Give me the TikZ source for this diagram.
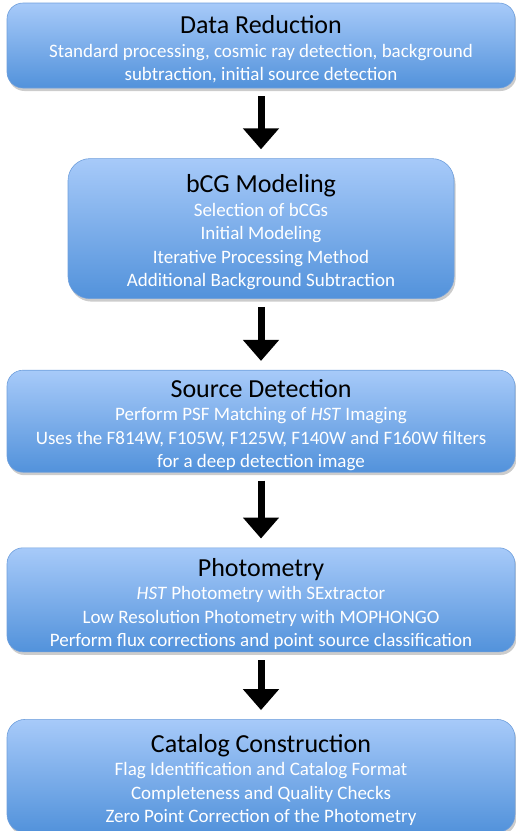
\documentclass[tikz,border=0pt]{standalone}
\usepackage{fontspec}
\setmainfont{Carlito}
\usetikzlibrary{positioning, arrows.meta, shadows}
\definecolor{boxtop}{HTML}{A7CAF9}
\definecolor{boxbottom}{HTML}{5292DB}
\definecolor{boxline}{HTML}{6F9FDC}
\tikzset{
  stage/.style={rectangle, rounded corners=16pt, minimum width=508pt, inner sep=0pt, draw=boxline, line width=0.6pt, top color=boxtop, bottom color=boxbottom, drop shadow={shadow xshift=1.5pt, shadow yshift=-3pt, fill=black!40}, align=center, text=white, font=\fontsize{19}{23.5}\selectfont},
  arrow/.style={line width=7pt, -{Triangle[width=35pt, length=21pt]}, shorten <=8pt, shorten >=9pt}
}
\newcommand{\stagetitle}[1]{{\color{black}\fontsize{26}{23}\selectfont\rule{0pt}{26pt}#1}}

\begin{document}
\begin{tikzpicture}
    \useasboundingbox (0pt,0pt) rectangle (516pt,-831pt);
    % --- Nodos ---
    \node (reduction) [stage, minimum height=85pt] at (261pt,-45.5pt) {\stagetitle{Data Reduction}\\ Standard processing, cosmic ray detection, background\\ subtraction, initial source detection};
    \node (bcg) [stage, below=70pt of reduction, minimum width=386pt, minimum height=140pt, rounded corners=22pt] {\stagetitle{bCG Modeling}\\ Selection of bCGs\\ Initial Modeling\\ Iterative Processing Method\\ Additional Background Subtraction};
    \node (detection) [stage, below=71pt of bcg, minimum height=102pt] {\stagetitle{Source Detection}\\ Perform PSF Matching of \textit{HST} Imaging\\ Uses the F814W, F105W, F125W, F140W and F160W filters\\ for a deep detection image};
    \node (photometry) [stage, below=75pt of detection, minimum height=104pt] {\stagetitle{Photometry}\\ \textit{HST} Photometry with SExtractor\\ Low Resolution Photometry with MOPHONGO\\ Perform flux corrections and point source classification};
    \node (catalog) [stage, below=67pt of photometry, minimum height=113pt, rounded corners=18pt] {\stagetitle{Catalog Construction}\\ Flag Identification and Catalog Format\\ Completeness and Quality Checks\\ Zero Point Correction of the Photometry};

    % --- Conexiones ---
    \draw [arrow] (reduction.south) -- (bcg.north);
    \draw [arrow] (bcg.south) -- (detection.north);
    \draw [arrow] (detection.south) -- (photometry.north);
    \draw [arrow] (photometry.south) -- (catalog.north);
\end{tikzpicture}
\end{document}
